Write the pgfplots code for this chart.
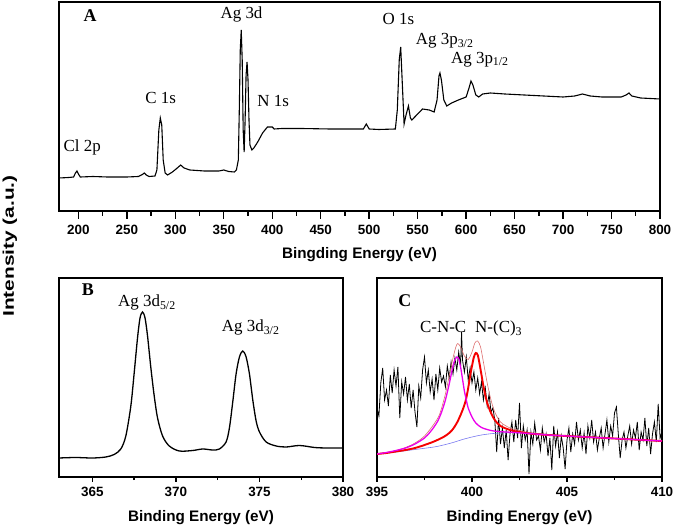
\documentclass[border=0pt]{standalone}
\usepackage{fontspec}
\setmainfont{Liberation Serif}
\newfontfamily\arial{Liberation Sans}
\usepackage{pgfplots}
\pgfplotsset{compat=1.18}
\definecolor{envc}{RGB}{222,110,110}
\definecolor{basec}{RGB}{120,120,240}
\definecolor{magc}{RGB}{235,0,235}
\definecolor{redc}{RGB}{245,0,0}
\pgfplotsset{
  xps/.style={
    scale only axis,
    anchor=south west,
    ytick=\empty,
    tick align=outside,
    tick pos=left,
    /pgf/number format/assume math mode=true,
    axis line style={line width=1.3bp},
    every tick/.append style={draw=black, line width=1.4bp},
    xticklabel style={font=\arial\bfseries\fontsize{13.5}{16}\selectfont, anchor=base, inner sep=0pt},
    xlabel style={font=\arial\bfseries\fontsize{15.3}{18}\selectfont, anchor=base, inner sep=0pt, at={(axis description cs:0.5,0)}},
  },
}
\tikzset{
  lbl/.style={anchor=base west, inner sep=0pt, font=\fontsize{17}{20}\selectfont},
  pl/.style={anchor=base west, inner sep=0pt, font=\bfseries\fontsize{18}{20}\selectfont},
}
\begin{document}
\begin{tikzpicture}
\useasboundingbox (0,0) rectangle (675bp,527bp);
% ---------------- Panel A ----------------
\begin{axis}[xps, at={(59bp,316bp)}, width=601bp, height=209bp,
  xmin=180, xmax=800, ymin=1, ymax=210,
  xtick distance=50, minor x tick num=1,
  major tick length=8bp, minor tick length=5bp,
  xticklabel style={yshift=-15.3bp},
  xlabel={Bingding Energy (eV)}, xlabel style={yshift=-48bp}]
\addplot[black, line width=1.1bp] coordinates {
(180,34) (190,34.5) (195,35) (197,39) (198.5,41) (200,38) (202,35) (215,35.5) (230,35) (250,35)
(262,35.5) (266,37.5) (268,39) (270,37) (273,35.5) (279,36) (281,42) (283,82) (284.5,94) (286,87)
(287.5,52) (289.5,39) (292,37) (297,40) (302,44) (305.5,47) (309,44) (315,42) (330,41) (345,41)
(350,42) (355,40.5) (361,40) (363,42) (365,52) (366,102) (367,162) (368,182) (369,152) (370,82)
(371,60) (372,92) (373,137) (374,150) (375,132) (376,92) (377,67) (379,62) (381,64) (385,70)
(390,79) (395,85) (400,85) (402,83) (410,83.5) (430,83.5) (460,83) (480,83) (494,83) (497,88)
(500,83) (510,82.5) (527,83) (529,102) (531,152) (532.5,165) (534,132) (536,88) (538,97) (540.5,106)
(542.5,94) (544,92) (548,96) (555,103) (562,102) (567,100) (570,112) (572,136) (573,139) (574.5,132)
(577,112) (580,106) (585,109) (592,112) (600,115) (603,124) (605,131) (607,127) (610,117) (613,115)
(617,118) (625,119) (640,118) (660,117) (680,116) (700,115) (712,116) (720,118) (728,116) (740,115)
(760,115) (765,117) (768,119) (771,116) (780,114) (800,113)
};
\node[pl] at (axis cs:205.1,190.3) {A};
\node[lbl] at (axis cs:346.5,193.7) {Ag 3d};
\node[lbl] at (axis cs:268.9,108.7) {C 1s};
\node[lbl] at (axis cs:384.4,105.3) {N 1s};
\node[lbl] at (axis cs:184.5,60.3) {Cl 2p};
\node[lbl] at (axis cs:513.7,187) {O 1s};
\node[lbl] at (axis cs:548,167) {Ag 3p\textsubscript{3/2}};
\node[lbl] at (axis cs:584.3,148.7) {Ag 3p\textsubscript{1/2}};
\end{axis}
% ---------------- Panel B ----------------
\begin{axis}[xps, at={(59bp,50bp)}, width=284bp, height=199bp,
  xmin=363, xmax=380, ymin=1, ymax=200,
  xtick={365,370,375,380}, minor xtick={367.5,372.5,377.5},
  major tick length=4.5bp, minor tick length=3bp,
  xticklabel style={yshift=-14.5bp},
  xlabel={Binding Energy (eV)}, xlabel style={yshift=-44.7bp}]
\addplot[black, line width=1.3bp, smooth, tension=0.5] coordinates {
(363.0,20) (364.0,20.5) (365.0,20) (365.8,21) (366.3,23.5) (366.7,29) (367.0,42) (367.3,72)
(367.5,105) (367.7,140) (367.85,160) (368.0,166) (368.15,160) (368.3,142) (368.5,110) (368.7,82)
(368.9,60) (369.2,42) (369.6,32) (370.2,27) (371.0,27.5) (371.6,29) (372.2,28) (372.6,29)
(373.0,36) (373.2,50) (373.4,76) (373.6,104) (373.8,121) (374.0,127) (374.2,121) (374.4,104)
(374.6,78) (374.8,57) (375.0,46) (375.4,36) (376.0,32) (376.6,31) (377.4,32.5) (378.3,30.5)
(379.0,30) (380.0,30)
};
\node[pl] at (axis cs:364.35,182) {B};
\node[lbl] at (axis cs:366.53,171.3) {Ag 3d\textsubscript{5/2}};
\node[lbl] at (axis cs:372.74,146.3) {Ag 3d\textsubscript{3/2}};
\end{axis}
% ---------------- Panel C ----------------
\begin{axis}[xps, at={(377bp,50bp)}, width=285bp, height=199bp,
  xmin=395, xmax=410, ymin=1, ymax=200,
  xtick={395,400,405,410}, minor xtick={397.5,402.5,407.5},
  major tick length=4.5bp, minor tick length=3bp,
  xticklabel style={yshift=-14.5bp},
  xlabel={Binding Energy (eV)}, xlabel style={yshift=-44.7bp}]
\addplot[black, line width=0.8bp] coordinates {
(395.0,70) (395.1,62) (395.2,95) (395.3,110) (395.4,78) (395.5,88) (395.6,72) (395.7,103) (395.8,85) (395.9,108)
(396.0,92) (396.1,111) (396.2,60) (396.3,96) (396.4,84) (396.5,101) (396.6,78) (396.7,94) (396.8,70) (396.9,88)
(397.0,66) (397.1,51) (397.2,92) (397.3,80) (397.4,108) (397.5,121) (397.6,95) (397.7,108) (397.8,86) (397.9,99)
(398.0,78) (398.1,104) (398.2,88) (398.3,110) (398.4,96) (398.5,102) (398.6,91) (398.7,112) (398.8,100) (398.9,116)
(399.0,104) (399.1,120) (399.2,108) (399.3,126) (399.4,112) (399.45,146) (399.5,118) (399.6,106) (399.7,121) (399.8,98)
(399.9,110) (400.0,95) (400.1,106) (400.2,88) (400.3,100) (400.4,84) (400.5,96) (400.6,78) (400.7,90) (400.8,72)
(400.9,84) (401.0,66) (401.1,70) (401.2,58) (401.3,26) (401.4,60) (401.5,34) (401.6,50) (401.7,30) (401.8,48)
(401.9,18) (402.0,44) (402.1,56) (402.2,36) (402.3,58) (402.4,40) (402.5,75) (402.6,30) (402.7,52) (402.8,38)
(402.9,48) (403.0,4) (403.1,46) (403.2,34) (403.3,55) (403.4,38) (403.5,42) (403.6,28) (403.7,50) (403.8,36)
(403.9,44) (404.0,22) (404.1,40) (404.2,8) (404.3,52) (404.4,32) (404.5,46) (404.6,20) (404.7,42) (404.8,30)
(404.9,9) (405.0,38) (405.1,50) (405.2,26) (405.3,44) (405.4,34) (405.5,56) (405.6,38) (405.7,48) (405.8,30)
(405.9,45) (406.0,24) (406.1,52) (406.2,40) (406.3,58) (406.4,36) (406.5,46) (406.6,28) (406.7,40) (406.8,50)
(406.9,30) (407.0,44) (407.1,58) (407.2,36) (407.3,52) (407.4,42) (407.5,65) (407.6,71) (407.7,44) (407.8,20)
(407.9,38) (408.0,46) (408.1,30) (408.2,42) (408.3,52) (408.4,34) (408.5,48) (408.6,40) (408.7,56) (408.8,28)
(408.9,46) (409.0,38) (409.1,60) (409.2,32) (409.3,50) (409.4,24) (409.5,44) (409.6,56) (409.7,36) (409.8,74)
(409.9,40) (410.0,46)
};
\addplot[envc, line width=0.6bp, smooth] coordinates {
(395.0,24) (395.5,25.5) (396.0,27.5) (396.5,30.5) (397.0,35) (397.5,42) (398.0,54) (398.3,64)
(398.6,84) (398.8,102) (399.0,120) (399.15,131) (399.25,134.5) (399.4,131) (399.6,122) (399.8,118.5)
(400.0,126) (400.15,135) (400.3,137) (400.45,131) (400.6,116) (400.8,95) (401.0,78) (401.2,66)
(401.5,56) (402.0,50) (402.5,47.5) (403,45.5) (404,43.5) (405,42) (406,41) (407,40) (408,39) (409,38) (410,37)
};
\addplot[basec, line width=0.6bp, smooth] coordinates {
(395.0,24) (396,26) (397,28.5) (398,31) (398.5,33) (399,35.5) (399.5,38.5) (400,41) (400.5,43)
(401,44.3) (401.5,45) (402,45.3) (402.5,45.2) (403,44.8) (404,43.5) (405,42) (406,41) (407,40) (408,39) (409,38) (410,37)
};
\addplot[redc, line width=1.9bp, smooth] coordinates {
(395.0,24) (395.5,25) (396.0,26.5) (396.5,28) (397.0,30) (397.5,33) (398.0,36.5) (398.5,41) (398.8,45)
(399.0,49) (399.2,55) (399.4,63) (399.6,73) (399.7,80) (399.8,90) (399.9,102) (400.0,112) (400.1,121)
(400.2,125) (400.3,123) (400.4,114) (400.5,103) (400.6,92) (400.7,83) (400.8,75) (401.0,65) (401.2,58)
(401.5,52) (402.0,48) (402.5,46) (403,44.5) (404,43) (405,42) (406,41) (407,40) (408,39) (409,38) (410,37)
};
\addplot[magc, line width=1.3bp, smooth] coordinates {
(395.0,24) (395.5,25.5) (396.0,27.5) (396.5,30) (397.0,34) (397.5,40) (397.8,46) (398.0,51) (398.2,57)
(398.4,66) (398.6,78) (398.8,94) (399.0,112) (399.1,118) (399.2,121) (399.3,119) (399.4,111) (399.5,99)
(399.6,87) (399.7,78) (399.8,70) (400.0,61) (400.2,55) (400.5,50.5) (401.0,47.5) (401.5,46.3) (402.0,45.8)
(403,44.5) (404,43) (405,42) (406,41) (407,40) (408,39) (409,38) (410,37)
};
\node[pl] at (axis cs:396.12,171.3) {C};
\node[lbl] at (axis cs:397.26,145) {C-N-C};
\node[lbl] at (axis cs:400.16,145) {N-(C)\textsubscript{3}};
\end{axis}
\node[rotate=90, xscale=1.35, inner sep=0pt, font=\arial\bfseries\fontsize{15.5}{18}\selectfont] at (10bp,281bp) {Intensity (a.u.)};
\end{tikzpicture}
\end{document}
